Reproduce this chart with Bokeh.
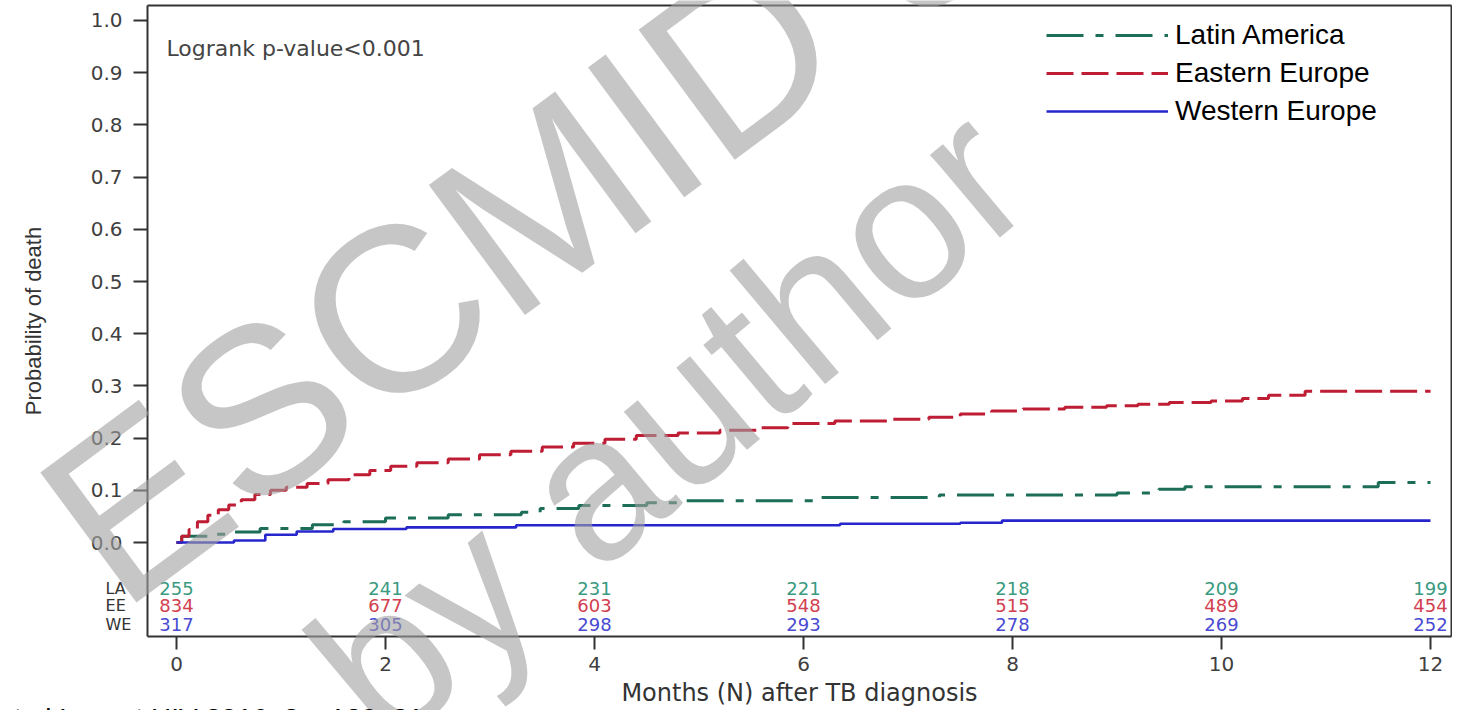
from bokeh.plotting import figure
from bokeh.models import Range1d, FixedTicker, Label, Legend, LegendItem, PrintfTickFormatter, LinearAxis
from bokeh.core.properties import value
from bokeh.embed import file_html
from bokeh.resources import INLINE

# ---------------- data ----------------
series_names = ["Latin America", "Eastern Europe", "Western Europe"]
risk_codes = ["LA", "EE", "WE"]

la_t = [0, 0.05, 0.3, 0.55, 0.8, 1.3, 1.6, 2.0, 2.6, 3.3, 3.48, 3.85, 4.5, 4.8, 6.1, 7.3, 9.0, 9.4, 9.65, 11.5, 12.0]
la_v = [0, 0.012, 0.016, 0.02, 0.027, 0.034, 0.04, 0.047, 0.053, 0.058, 0.065, 0.071, 0.076, 0.08, 0.086, 0.091, 0.095, 0.102, 0.107, 0.115, 0.115]

ee_t = [0, 0.05, 0.12, 0.2, 0.3, 0.4, 0.5, 0.62, 0.75, 0.9, 1.05, 1.25, 1.45, 1.65, 1.85, 2.05, 2.3, 2.6, 2.9,
        3.2, 3.5, 3.8, 4.1, 4.4, 4.8, 5.2, 5.55, 5.85, 6.3, 6.8, 7.2, 7.5, 7.8, 8.1, 8.5, 8.9, 9.2, 9.5, 9.9,
        10.2, 10.45, 10.8, 12.0]
ee_v = [0, 0.012, 0.025, 0.04, 0.052, 0.063, 0.072, 0.082, 0.092, 0.1, 0.106, 0.113, 0.12, 0.13, 0.138, 0.146,
        0.153, 0.16, 0.168, 0.175, 0.183, 0.19, 0.198, 0.205, 0.21, 0.215, 0.22, 0.228, 0.233, 0.236, 0.24,
        0.246, 0.252, 0.256, 0.259, 0.262, 0.265, 0.268, 0.271, 0.276, 0.282, 0.29, 0.29]

we_t = [0, 0.55, 0.85, 1.15, 1.5, 2.2, 3.25, 6.35, 7.5, 7.9, 12.0]
we_v = [0, 0.004, 0.015, 0.021, 0.026, 0.029, 0.033, 0.036, 0.038, 0.042, 0.042]

risk_months = [0, 2, 4, 6, 8, 10, 12]
risk_la = [255, 241, 231, 221, 218, 209, 199]
risk_ee = [834, 677, 603, 548, 515, 489, 454]
risk_we = [317, 305, 298, 293, 278, 269, 252]
risk_rows_y = [-0.088, -0.121, -0.157]

y_ticks = [0.0, 0.1, 0.2, 0.3, 0.4, 0.5, 0.6, 0.7, 0.8, 0.9, 1.0]
x_ticks = [0, 2, 4, 6, 8, 10, 12]

# plot-box extent in data units (where the axes sit)
box_x = (-0.2775, 12.2)
box_y = (-0.180, 1.0287)

# ---------------- styling ----------------
line_cols = ["#1c6e58", "#bf1d33", "#2626cc"]
num_cols = ["#3a9a80", "#d2404f", "#4a4ad2"]
dashes = ["37 12 8 12", "27 8", "solid"]
widths = [3, 3, 2.6]
frame_col = "#333333"

p = figure(width=1452, height=710, output_backend="svg", toolbar_location=None,
           x_range=Range1d(-1.6842, 12.2105), y_range=Range1d(-0.3218, 1.0383),
           min_border=0, x_axis_location=None, y_axis_location=None)

p.background_fill_color = "white"
p.border_fill_color = "white"
p.outline_line_color = None
p.xgrid.visible = False
p.ygrid.visible = False


def style_axis(ax):
    ax.axis_line_color = frame_col
    ax.axis_line_width = 2
    ax.major_tick_line_color = frame_col
    ax.major_tick_line_width = 2
    ax.major_tick_in = 0
    ax.minor_tick_line_color = None
    ax.major_label_text_font = "DejaVu Sans"
    ax.major_label_text_font_size = "20px"
    ax.major_label_text_color = "#404040"
    ax.axis_label_text_font_style = "normal"
    ax.axis_label_text_color = "#333333"


yax = LinearAxis(fixed_location=box_x[0], bounds=box_y, ticker=FixedTicker(ticks=y_ticks),
                 formatter=PrintfTickFormatter(format="%.1f"))
style_axis(yax)
yax.major_tick_out = 14
yax.major_label_standoff = 11
yax.axis_label = "Probability of death"
yax.axis_label_text_font = "Liberation Sans"
yax.axis_label_text_font_size = "22px"
yax.axis_label_standoff = 42
p.add_layout(yax, "left")

xax = LinearAxis(fixed_location=box_y[0], bounds=box_x, ticker=FixedTicker(ticks=x_ticks))
style_axis(xax)
xax.major_tick_out = 13
xax.major_label_standoff = 8
xax.axis_label = "Months (N) after TB diagnosis"
xax.axis_label_text_font = "DejaVu Sans"
xax.axis_label_text_font_size = "24px"
xax.axis_label_standoff = 4
p.add_layout(xax, "below")

# top and right edges of the plot box
tax = LinearAxis(fixed_location=box_y[1], bounds=box_x, ticker=FixedTicker(ticks=[]))
style_axis(tax)
p.add_layout(tax, "above")
rax = LinearAxis(fixed_location=box_x[1], bounds=box_y, ticker=FixedTicker(ticks=[]))
style_axis(rax)
p.add_layout(rax, "right")

renderers = []
for (tt, vv), col, dsh, lw in zip([(la_t, la_v), (ee_t, ee_v), (we_t, we_v)], line_cols, dashes, widths):
    r = p.step(tt, vv, mode="after", line_color=col, line_width=lw, line_dash=dsh)
    renderers.append(r)

legend = Legend(items=[LegendItem(label=n, renderers=[r]) for n, r in zip(series_names, renderers)],
                location=(1046, 582), orientation="vertical",
                label_text_font="Liberation Sans", label_text_font_size="28px", label_text_color="black",
                glyph_width=122, glyph_height=34, label_height=34, label_standoff=7, spacing=4,
                padding=0, margin=0, border_line_color=None, background_fill_alpha=0)
p.add_layout(legend)

for vals, yy, col in zip([risk_la, risk_ee, risk_we], risk_rows_y, num_cols):
    p.text(x=risk_months, y=[yy] * len(risk_months), text=[str(v) for v in vals],
           text_align="center", text_baseline="middle", text_font=value("DejaVu Sans"),
           text_font_size="18px", text_color=col)

p.text(x=[-0.679] * 3, y=risk_rows_y, text=risk_codes, text_align="left", text_baseline="middle",
       text_font=value("DejaVu Sans"), text_font_size="16px", text_color="#333333")

p.add_layout(Label(x=-0.096, y=0.946, text="Logrank p-value<0.001", text_align="left",
                   text_baseline="middle", text_font="DejaVu Sans", text_font_size="22px",
                   text_color="#444444"))

# watermark
p.add_layout(Label(x=-0.995, y=-0.0115, text="ESCMID eLibrary", angle=36.5, angle_units="deg",
                   text_font="Liberation Sans", text_font_size="235px", text_color="#a0a0a0",
                   text_alpha=0.6, text_baseline="alphabetic", text_align="left"))
p.add_layout(Label(x=1.569, y=-0.297, text="by author", angle=40, angle_units="deg",
                   text_font="Liberation Sans", text_font_size="205px", text_color="#a0a0a0",
                   text_alpha=0.6, text_baseline="alphabetic", text_align="left"))

# caption
p.add_layout(Label(x=-1.703, y=-0.337, text="et al Lancet HIV 2016; 3: e120\u201331", text_align="left",
                   text_baseline="alphabetic", text_font="Liberation Sans", text_font_size="28px",
                   text_color="black"))

open("out.html", "w").write(file_html(p, INLINE))
